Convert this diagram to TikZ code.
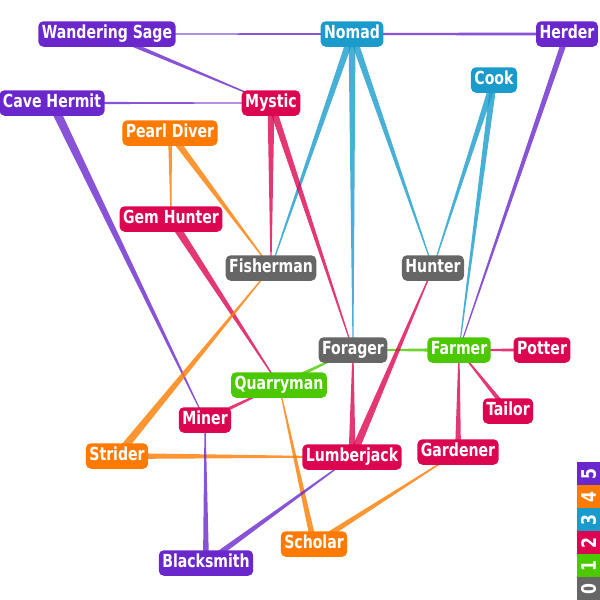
\documentclass[tikz,border=0pt]{standalone}
\usepackage{fontspec}
\newfontfamily\lab[FakeStretch=0.87]{DejaVu Sans Condensed Bold}
\usetikzlibrary{calc,backgrounds}
\definecolor{cpurple}{RGB}{106,40,204}
\definecolor{corange}{RGB}{255,122,0}
\definecolor{cblue}{RGB}{26,155,204}
\definecolor{cred}{RGB}{220,6,80}
\definecolor{cgreen}{RGB}{76,200,0}
\definecolor{cgray}{RGB}{102,102,102}
\newcommand\wdg[4]{%
  \fill[#4, opacity=.8] ($(#1.center)!#3pt!90:(#2.center)$) -- ($(#2.center)!0.45pt!-90:(#1.center)$) -- ($(#2.center)!0.45pt!90:(#1.center)$) -- ($(#1.center)!#3pt!-90:(#2.center)$) -- cycle;}
\tikzset{
  nd/.style={rounded corners=5pt, fill=#1, text=white, font=\lab\fontsize{18}{20}\selectfont,
    inner xsep=3.5pt, inner ysep=4.5pt, text height=13pt, text depth=3.5pt},
  lg/.style={fill=#1, text=white, font=\lab\fontsize{20}{22}\selectfont, minimum width=23pt, minimum height=23pt, inner sep=0pt, anchor=north west}
}
\begin{document}
\begin{tikzpicture}[x=1pt,y=-1pt]
\useasboundingbox (0,0) rectangle (600,600);
\node[nd=cpurple] (sage) at (107,34) {Wandering Sage};
\node[nd=cblue] (nomad) at (352,34) {Nomad};
\node[nd=cpurple] (herder) at (567,34) {Herder};
\node[nd=cblue] (cook) at (494,80) {Cook};
\node[nd=cpurple] (hermit) at (52,103) {Cave Hermit};
\node[nd=cred] (mystic) at (271,103) {Mystic};
\node[nd=corange] (pearl) at (170,133) {Pearl Diver};
\node[nd=cred] (gem) at (171,219) {Gem Hunter};
\node[nd=cgray] (fisher) at (271,268) {Fisherman};
\node[nd=cgray] (hunter) at (433,268) {Hunter};
\node[nd=cgray] (forager) at (353,350) {Forager};
\node[nd=cgreen] (farmer) at (459,350) {Farmer};
\node[nd=cred] (potter) at (542,350) {Potter};
\node[nd=cgreen] (quarry) at (279,385) {Quarryman};
\node[nd=cred] (tailor) at (508,411) {Tailor};
\node[nd=cred] (miner) at (205,420) {Miner};
\node[nd=corange] (strider) at (117,456) {Strider};
\node[nd=cred] (lumber) at (352,457) {Lumberjack};
\node[nd=cred] (garden) at (458,452) {Gardener};
\node[nd=corange] (scholar) at (314,544) {Scholar};
\node[nd=cpurple] (smith) at (206,563) {Blacksmith};
\begin{pgfonlayer}{background}
\wdg{herder}{sage}{1.5}{cpurple}
\wdg{sage}{mystic}{2.3}{cpurple}
\wdg{hermit}{mystic}{1.3}{cpurple}
\wdg{hermit}{miner}{4.5}{cpurple}
\wdg{herder}{farmer}{3}{cpurple}
\wdg{nomad}{fisher}{3.5}{cblue}
\wdg{nomad}{forager}{3.5}{cblue}
\wdg{nomad}{hunter}{3.5}{cblue}
\wdg{cook}{hunter}{3.2}{cblue}
\wdg{cook}{farmer}{3.2}{cblue}
\wdg{mystic}{fisher}{3.5}{cred}
\wdg{mystic}{forager}{3.5}{cred}
\wdg{pearl}{gem}{2}{corange}
\wdg{pearl}{fisher}{3.5}{corange}
\wdg{gem}{quarry}{4}{cred}
\wdg{strider}{fisher}{4}{corange}
\wdg{strider}{lumber}{3}{corange}
\wdg{quarry}{forager}{2.2}{cgreen}
\wdg{farmer}{forager}{2}{cgreen}
\wdg{miner}{quarry}{2.2}{cred}
\wdg{scholar}{quarry}{3}{corange}
\wdg{potter}{farmer}{2}{cred}
\wdg{tailor}{farmer}{2.5}{cred}
\wdg{garden}{farmer}{3}{cred}
\wdg{scholar}{garden}{3}{corange}
\wdg{lumber}{hunter}{4}{cred}
\wdg{lumber}{forager}{3.5}{cred}
\wdg{smith}{lumber}{3}{cpurple}
\wdg{smith}{miner}{3}{cpurple}
\end{pgfonlayer}
\node[lg=cpurple] (l5) at (577,462) {\rotatebox{90}{5}};
\node[lg=corange] (l4) at (577,485) {\rotatebox{90}{4}};
\node[lg=cblue] (l3) at (577,508) {\rotatebox{90}{3}};
\node[lg=cred] (l2) at (577,531) {\rotatebox{90}{2}};
\node[lg=cgreen] (l1) at (577,554) {\rotatebox{90}{1}};
\node[lg=cgray] (l0) at (577,577) {\rotatebox{90}{0}};
\end{tikzpicture}
\end{document}
